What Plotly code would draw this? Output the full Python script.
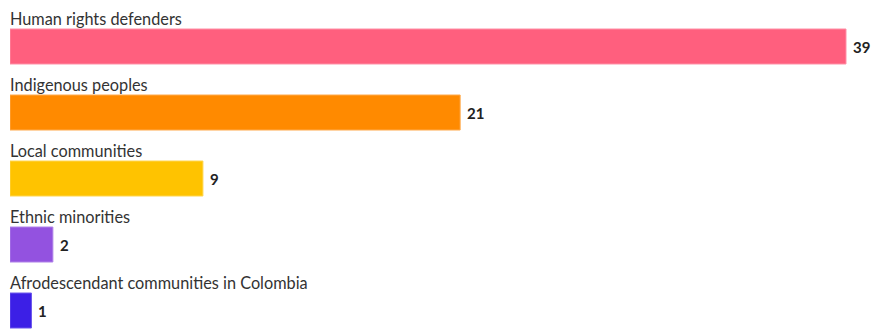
import plotly.graph_objects as go

categories = ["Human rights defenders", "Indigenous peoples", "Local communities",
              "Ethnic minorities", "Afrodescendant communities in Colombia"]
values = [39, 21, 9, 2, 1]
colors = ["#FF5F7E", "#FF8A00", "#FFC300", "#9352E0", "#3C1FE6"]
borders = ["#FF8FA5", "#FFAA4D", "#FFD54D", "#AE80E8", "#6A55EC"]

FONT = "Lato, sans-serif"

fig = go.Figure()
fig.add_trace(go.Bar(
    y=categories, x=values, orientation="h",
    marker=dict(color=colors, line=dict(color=borders, width=1)),
    width=0.53,
    hoverinfo="skip",
))
for c, v in zip(categories, values):
    fig.add_annotation(x=0, y=c, xref="x", yref="y", text=c, showarrow=False,
                       xanchor="left", yanchor="middle", yshift=28, xshift=-2,
                       font=dict(family=FONT, size=16.3, color="#333333"))
    fig.add_annotation(x=v, y=c, xref="x", yref="y", text=f"<b>{v}</b>", showarrow=False,
                       xanchor="left", yanchor="middle", xshift=5,
                       font=dict(family=FONT, size=15, color="#222222"))

fig.update_layout(
    width=873, height=329,
    margin=dict(l=10, r=0, t=0, b=0),
    plot_bgcolor="white", paper_bgcolor="white",
    showlegend=False,
    xaxis=dict(range=[0, 40.26], visible=False, fixedrange=True),
    yaxis=dict(categoryorder="array", categoryarray=categories,
               range=[4.280, -0.7045], visible=False, fixedrange=True),
)
fig.write_html("out.html")
